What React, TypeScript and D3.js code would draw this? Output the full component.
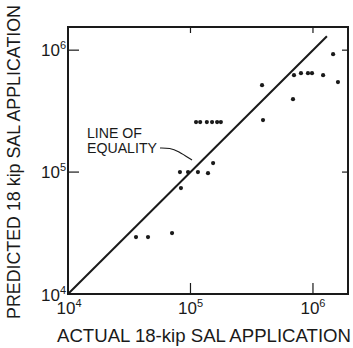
import React from 'react';
import * as d3 from 'd3';

const actual = [
  35900, 45000, 70700,
  83600, 82000, 95500, 115000, 139000, 153000,
  111000, 120000, 136000, 150000, 165000, 177000,
  384000, 391000, 687000, 700000, 798000, 910000, 982000, 1210000, 1460000, 1600000,
];
const predicted = [
  29300, 29300, 31600,
  74000, 100000, 100000, 100000, 98000, 118600,
  257000, 257000, 257000, 257000, 257000, 257000,
  516000, 267000, 396000, 624000, 648000, 648000, 648000, 624000, 927000, 547000,
];
const decades = [4, 5, 6];
const equalityEnds = [1e4, 1.3e6];

const W = 353;
const H = 348;
const left = 68, right = 348, top = 27, bottom = 294;
const FONT = '"Liberation Sans", Arial, sans-serif';
const INK = '#1a1a1a';

const App = () => {
  const x = d3.scaleLog().domain([1e4, Math.pow(10, 6.286)]).range([left, right]);
  const y = d3.scaleLog().domain([1e4, Math.pow(10, 6.19)]).range([bottom, top]);

  const pts = actual.map((a, i) => ({ a, p: predicted[i] }));

  // leader from the label to the equality line
  const leader = d3.line().curve(d3.curveBasis)([
    [160, 148], [170, 148], [178, 151], [192, 160],
  ]);

  const pow = (e: number, anchor: string, px: number, py: number, key: string) => (
    <text key={key} x={px} y={py} textAnchor={anchor} fontSize={17} fontFamily={FONT} fill={INK}>
      10<tspan fontSize={11} dy={-7}>{e}</tspan>
    </text>
  );

  return (
    <svg width={W} height={H} style={{ position: 'absolute', left: 0, top: 0, background: '#fff' }}>
      <rect x={left} y={top} width={right - left} height={bottom - top} fill="none" stroke={INK} strokeWidth={2} />

      {decades.slice(1).map(d => (
        <g key={'t' + d} stroke={INK} strokeWidth={1.2}>
          <line x1={x(Math.pow(10, d))} x2={x(Math.pow(10, d))} y1={bottom} y2={bottom - 11} />
          <line x1={x(Math.pow(10, d))} x2={x(Math.pow(10, d))} y1={top} y2={top + 6} />
          <line x1={left} x2={left + 11} y1={y(Math.pow(10, d))} y2={y(Math.pow(10, d))} />
          <line x1={right} x2={right - 6} y1={y(Math.pow(10, d))} y2={y(Math.pow(10, d))} />
        </g>
      ))}

      {decades.map(d => pow(d, 'middle', x(Math.pow(10, d)) + (d === 4 ? 1 : 0), 314, 'xl' + d))}
      {decades.map(d => pow(d, 'end', left - 2, y(Math.pow(10, d)) + (d === 4 ? 7 : 6), 'yl' + d))}

      <line
        x1={x(equalityEnds[0])} y1={y(equalityEnds[0])}
        x2={x(equalityEnds[1])} y2={y(equalityEnds[1])}
        stroke={INK} strokeWidth={2}
      />

      {pts.map((d, i) => (
        <circle key={i} cx={x(d.a)} cy={y(d.p)} r={2.1} fill={INK} />
      ))}

      <text x={87} y={138} fontSize={14} fontFamily={FONT} fill={INK} textLength={55} lengthAdjust="spacingAndGlyphs">LINE OF</text>
      <text x={87} y={153} fontSize={14} fontFamily={FONT} fill={INK} textLength={70} lengthAdjust="spacingAndGlyphs">EQUALITY</text>
      <path d={leader ?? ''} fill="none" stroke={INK} strokeWidth={1.2} />

      <text x={57} y={342} fontSize={17.5} fontFamily={FONT} fill={INK} textLength={294} lengthAdjust="spacingAndGlyphs">
        ACTUAL 18-kip SAL APPLICATION
      </text>
      <text
        transform="translate(20,319) rotate(-90)"
        fontSize={17.5} fontFamily={FONT} fill={INK} textLength={314} lengthAdjust="spacingAndGlyphs"
      >
        PREDICTED 18 kip SAL APPLICATION
      </text>
    </svg>
  );
};

export default App;
